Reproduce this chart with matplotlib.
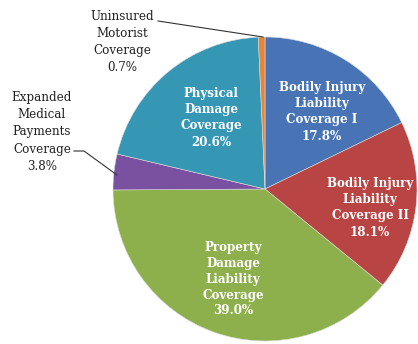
import matplotlib as mpl
mpl.use('Agg')
import matplotlib.pyplot as plt

labels = ['Bodily Injury\nLiability\nCoverage I',
          'Bodily Injury\nLiability\nCoverage II',
          'Property\nDamage\nLiability\nCoverage',
          'Expanded\nMedical\nPayments\nCoverage',
          'Physical\nDamage\nCoverage',
          'Uninsured\nMotorist\nCoverage']
shares = [17.8, 18.1, 39.0, 3.8, 20.6, 0.7]
colors = ['#4874B6', '#B84543', '#8DB04D', '#7A50A0', '#3697B5', '#E5853C']

# label centres in pixel coords (y measured from the top)
label_pos = [(322, 112), (370, 208), (233, 279), (42, 132), (211, 118), (122, 42)]
inside = [True, True, True, False, True, False]

fig = plt.figure(figsize=(4.18, 3.44), dpi=100)
ax = fig.add_axes([0, 0, 1, 1])
H = 344

wedges, _ = ax.pie(shares, colors=colors, startangle=90, counterclock=False,
                   center=(265, H - 189), radius=152,
                   wedgeprops=dict(linewidth=0.4, edgecolor='#dddddd'))

for lab, val, (x, y), ins in zip(labels, shares, label_pos, inside):
    txt = '%s\n%.1f%%' % (lab, val)
    if ins:
        ax.text(x, H - y, txt, ha='center', va='center', color='white',
                fontsize=8.6, fontweight='bold', family='DejaVu Serif',
                linespacing=1.3)
    else:
        ax.text(x, H - y, txt, ha='center', va='center', color='#222222',
                fontsize=8.6, family='DejaVu Serif', linespacing=1.4)

# leader lines for the two thin slices
ax.plot([158, 263], [H - 21, H - 37], color='#333333', lw=0.8)
ax.plot([74, 84, 117], [H - 151, H - 151, H - 175], color='#333333', lw=0.8)

ax.set_xlim(0, 418)
ax.set_ylim(0, H)
ax.set_aspect('auto')
ax.axis('off')

fig.savefig('out.png', dpi=100)
